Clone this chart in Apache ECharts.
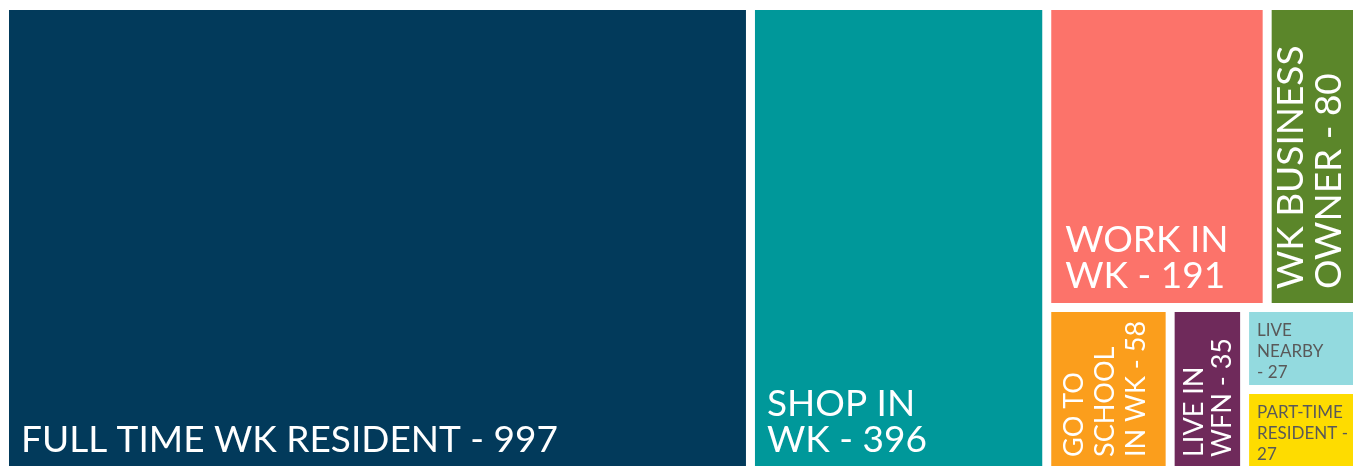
<!DOCTYPE html>
<html>
<head>
<meta charset="utf-8">
<script src="https://cdn.jsdelivr.net/npm/echarts@6/dist/echarts.min.js"></script>
<style>
  html, body { margin: 0; padding: 0; background: #fff; }
  #treemap { width: 1353px; height: 466px; }
</style>
</head>
<body>
<div id="treemap"></div>
<script>
// respondents by relationship to WK
var names = ['FULL TIME WK RESIDENT', 'SHOP IN\nWK', 'WORK IN\nWK', 'WK BUSINESS\nOWNER',
    'GO TO\nSCHOOL\nIN WK', 'LIVE IN\nWFN', 'LIVE\nNEARBY', 'PART-TIME\nRESIDENT'];
var counts = [997, 396, 191, 80, 58, 35, 27, 27];
var joins = [' - ', ' - ', ' - ', ' - ', ' - ', ' - ', '\n- ', ' -\n'];
var colors = ['#023a5b', '#00989a', '#fc736a', '#5b862a', '#fb9e1c', '#6f2a5b', '#93dadf', '#fedc00'];

// nesting only steers the squarify layout so the tiles sit like the original
var nesting = [0, 1, [[2, 3], [4, 5, [6, 7]]]];

// label look per tile
var bigLabel = { fontSize: 37, lineHeight: 36, position: 'insideBottomLeft', padding: [0, 0, 9, 12] };
var tileLabels = [
    bigLabel,
    bigLabel,
    { fontSize: 37, lineHeight: 36, position: 'insideBottomLeft', padding: [0, 0, 9, 14] },
    { fontSize: 37, lineHeight: 38, position: 'insideBottomLeft', rotate: 90, verticalAlign: 'top', align: 'left', padding: [0, 0, 0, 14] },
    { fontSize: 27, lineHeight: 31, position: 'insideBottomLeft', rotate: 90, verticalAlign: 'top', align: 'left', padding: [8, 0, 0, 10] },
    { fontSize: 27, lineHeight: 28, position: 'insideBottomLeft', rotate: 90, verticalAlign: 'top', align: 'left', padding: [6, 0, 0, 10] },
    { fontSize: 17, lineHeight: 21, position: 'insideTopLeft', padding: [8, 0, 0, 8], color: '#595959' },
    { fontSize: 17, lineHeight: 21, position: 'insideTopLeft', padding: [8, 0, 0, 8], color: '#595959' }
];

function build(node) {
    if (typeof node === 'number') {
        var lab = Object.assign({ show: true, formatter: names[node] + joins[node] + counts[node] }, tileLabels[node]);
        return {
            name: names[node].replace(/\n/g, ' '),
            value: counts[node],
            itemStyle: { color: colors[node] },
            label: lab
        };
    }
    return { children: node.map(build) };
}

var myChart = echarts.init(document.getElementById('treemap'));
myChart.setOption({
    animation: false,
    series: [
        {
            type: 'treemap',
            left: 9,
            top: 10,
            width: 1346,
            height: 457,
            roam: false,
            nodeClick: false,
            sort: false,
            squareRatio: 1,
            breadcrumb: { show: false },
            label: {
                show: true,
                fontFamily: 'Lato',
                color: '#fff',
                overflow: 'none'
            },
            upperLabel: { show: false },
            itemStyle: { borderWidth: 0, gapWidth: 9, borderColor: '#fff' },
            levels: [
                { itemStyle: { borderWidth: 0, gapWidth: 9 } },
                { itemStyle: { borderWidth: 0, gapWidth: 9 } },
                { itemStyle: { borderWidth: 0, gapWidth: 9 } },
                { itemStyle: { borderWidth: 0, gapWidth: 9 } }
            ],
            data: nesting.map(build)
        }
    ]
});
</script>
</body>
</html>
